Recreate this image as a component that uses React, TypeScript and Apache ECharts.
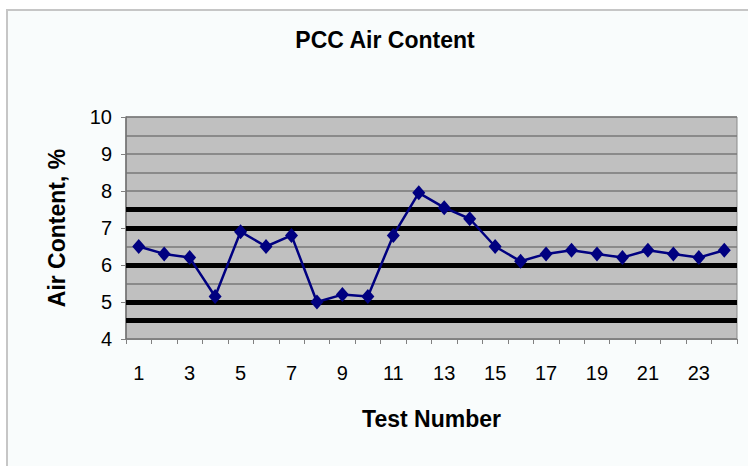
import React, { useEffect, useRef } from "react";
import * as echarts from "echarts";

const testNumbers: string[] = [
  "1", "2", "3", "4", "5", "6", "7", "8", "9", "10", "11", "12",
  "13", "14", "15", "16", "17", "18", "19", "20", "21", "22", "23", "24",
];
const airContent: number[] = [
  6.5, 6.3, 6.2, 5.15, 6.9, 6.5, 6.8, 5.0, 5.2, 5.15, 6.8, 7.95,
  7.55, 7.25, 6.5, 6.1, 6.3, 6.4, 6.3, 6.2, 6.4, 6.3, 6.2, 6.4,
];
const limitLines: number[] = [4.5, 5.0, 6.0, 7.0, 7.5];
const yMin = 4;
const yMax = 10;

const FONT = "'Liberation Sans', Arial, sans-serif";

export default function App() {
  const ref = useRef<HTMLDivElement>(null);
  useEffect(() => {
    if (!ref.current) return;
    const chart = echarts.init(ref.current, undefined, { renderer: "svg" });
    chart.setOption({
      animation: false,
      backgroundColor: "#f9fcfc",
      textStyle: { fontFamily: FONT },
      graphic: [
        { type: "rect", silent: true, shape: { x: 0, y: 0, width: 748, height: 9 }, style: { fill: "#ffffff" } },
        { type: "rect", silent: true, shape: { x: 0, y: 0, width: 6, height: 466 }, style: { fill: "#ffffff" } },
        {
          type: "rect",
          silent: true,
          shape: { x: 7, y: 10, width: 780, height: 500 },
          style: { fill: "none", stroke: "#c6c6c6", lineWidth: 2 },
        },
        {
          type: "text",
          x: 385,
          y: 40,
          style: {
            text: "PCC Air Content",
            align: "center",
            verticalAlign: "middle",
            fontFamily: FONT,
            fontWeight: "bold",
            fontSize: 23,
            fill: "#000000",
          },
        },
      ],
      grid: {
        left: 126,
        right: 11,
        top: 117,
        bottom: 127,
        show: true,
        backgroundColor: "#c0c0c0",
        borderColor: "#8a8a8a",
        borderWidth: 1,
      },
      xAxis: {
        type: "category",
        data: testNumbers,
        boundaryGap: true,
        name: "Test Number",
        nameLocation: "middle",
        nameGap: 68,
        nameTextStyle: { fontFamily: FONT, fontWeight: "bold", fontSize: 23, color: "#000" },
        axisLine: { show: true, lineStyle: { color: "#808080", width: 1 } },
        axisTick: { show: true, interval: 0, length: 5, lineStyle: { color: "#808080" } },
        axisLabel: { interval: 1, margin: 24, fontSize: 20, color: "#000", fontFamily: FONT },
        splitLine: { show: false },
      },
      yAxis: {
        type: "value",
        min: yMin,
        max: yMax,
        interval: 1,
        name: "Air Content, %",
        nameLocation: "middle",
        nameRotate: 90,
        nameGap: 58,
        nameTextStyle: { fontFamily: FONT, fontWeight: "bold", fontSize: 23, color: "#000" },
        axisLine: { show: true, lineStyle: { color: "#707070", width: 1.5 } },
        axisTick: { show: true, length: 5, lineStyle: { color: "#808080" } },
        axisLabel: { margin: 14, fontSize: 20, color: "#000", fontFamily: FONT },
        splitLine: { show: true, lineStyle: { color: "#787878", width: 1.5 } },
        minorTick: { show: false, splitNumber: 2 },
        minorSplitLine: { show: true, lineStyle: { color: "#787878", width: 1.5 } },
      },
      series: [
        {
          type: "line",
          data: [],
          z: 1,
          silent: true,
          markLine: {
            silent: true,
            symbol: ["none", "none"],
            label: { show: false },
            lineStyle: { color: "#000000", width: 5, type: "solid" },
            data: limitLines.map((v) => ({ yAxis: v })),
          },
        },
        {
          type: "line",
          data: airContent,
          z: 5,
          symbol: "diamond",
          symbolSize: [13, 15],
          lineStyle: { color: "#000080", width: 2.5 },
          itemStyle: { color: "#000080" },
        },
      ],
    });
    return () => chart.dispose();
  }, []);
  return (
    <div
      ref={ref}
      style={{ position: "absolute", left: 0, top: 0, width: 748, height: 466 }}
    />
  );
}
